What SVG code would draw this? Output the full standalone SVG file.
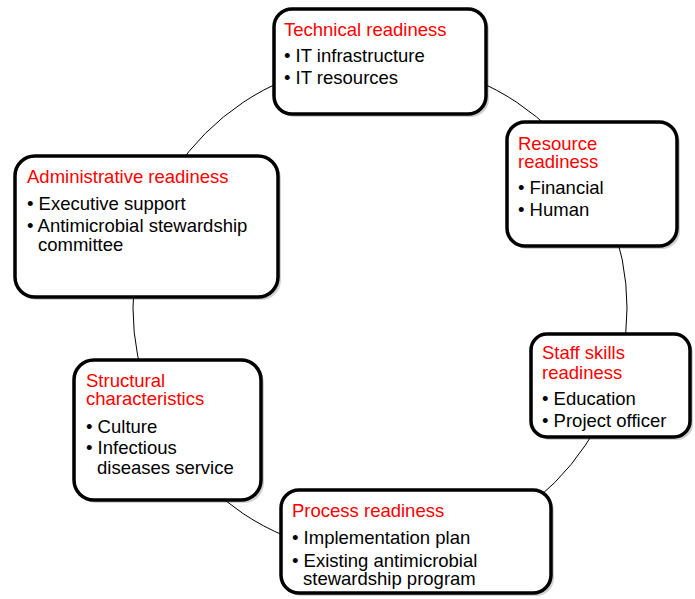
<svg xmlns="http://www.w3.org/2000/svg" width="695" height="599" viewBox="0 0 695 599">
<style>
.box{fill:#fff;stroke:#000;stroke-width:3.5}
.sh{fill:#000;opacity:0.18}
text{font-family:"Liberation Sans",Arial,sans-serif;font-size:18.5px;fill:#000}
.t{fill:#ff0000}
</style>
<rect width="695" height="599" fill="#fff"/>
<g id="connectors">
<circle cx="380" cy="308" r="247" fill="none" stroke="#000" stroke-width="1"/>
</g>
<g id="technical">
<rect class="sh" x="277" y="12" width="212" height="105" rx="18"/>
<rect class="box" x="274" y="9" width="212" height="105" rx="18"/>
<text class="t" x="284" y="36">Technical readiness</text>
<text x="284" y="62">• IT infrastructure</text>
<text x="284" y="84">• IT resources</text>
</g>
<g id="resource">
<rect class="sh" x="510" y="125" width="170" height="124" rx="18"/>
<rect class="box" x="507" y="122" width="170" height="124" rx="18"/>
<text class="t" x="518" y="150">Resource</text>
<text class="t" x="518" y="168">readiness</text>
<text x="518" y="194">• Financial</text>
<text x="518" y="216">• Human</text>
</g>
<g id="administrative">
<rect class="sh" x="18" y="159" width="263" height="141" rx="20"/>
<rect class="box" x="15" y="156" width="263" height="141" rx="20"/>
<text class="t" x="27" y="183">Administrative readiness</text>
<text x="27" y="210">• Executive support</text>
<text x="27" y="232">• Antimicrobial stewardship</text>
<text x="38" y="251">committee</text>
</g>
<g id="staff">
<rect class="sh" x="534" y="337" width="159" height="103" rx="16"/>
<rect class="box" x="531" y="334" width="159" height="103" rx="16"/>
<text class="t" x="542" y="359">Staff skills</text>
<text class="t" x="542" y="379">readiness</text>
<text x="542" y="405">• Education</text>
<text x="542" y="427">• Project officer</text>
</g>
<g id="structural">
<rect class="sh" x="77" y="363" width="187" height="140" rx="20"/>
<rect class="box" x="74" y="360" width="187" height="140" rx="20"/>
<text class="t" x="86" y="387">Structural</text>
<text class="t" x="86" y="405">characteristics</text>
<text x="86" y="433">• Culture</text>
<text x="86" y="454">• Infectious</text>
<text x="97" y="474">diseases service</text>
</g>
<g id="process">
<rect class="sh" x="284" y="493" width="270" height="103" rx="18"/>
<rect class="box" x="281" y="490" width="270" height="103" rx="18"/>
<text class="t" x="292" y="517">Process readiness</text>
<text x="292" y="544">• Implementation plan</text>
<text x="292" y="567">• Existing antimicrobial</text>
<text x="303" y="585">stewardship program</text>
</g>
</svg>
